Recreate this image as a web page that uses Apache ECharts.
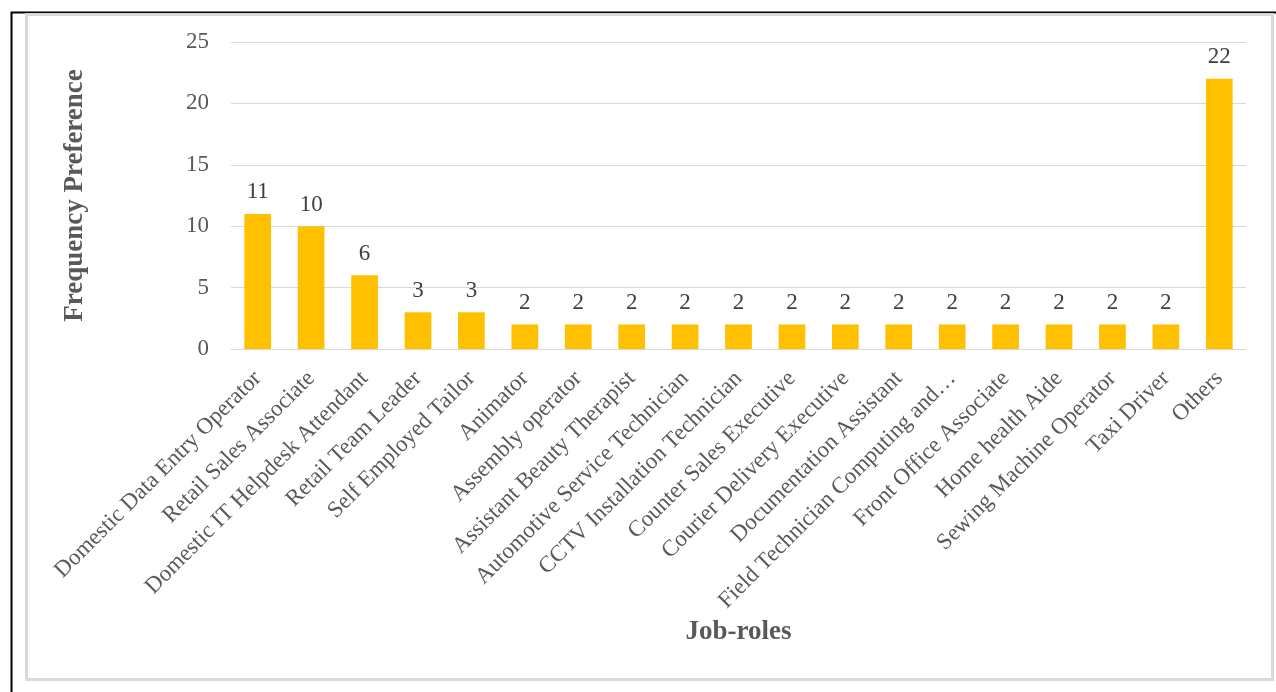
<!DOCTYPE html>
<html>
<head>
<meta charset="utf-8">
<script src="https://cdn.jsdelivr.net/npm/echarts@6/dist/echarts.min.js"></script>
<style>
  html, body { margin: 0; padding: 0; background: #fff; }
  #chart { width: 1276px; height: 692px; }
</style>
</head>
<body>
<div id="chart"></div>
<script>
const jobRoles = [
  'Domestic Data Entry Operator',
  'Retail Sales Associate',
  'Domestic IT Helpdesk Attendant',
  'Retail Team Leader',
  'Self Employed Tailor',
  'Animator',
  'Assembly operator',
  'Assistant Beauty Therapist',
  'Automotive Service Technician',
  'CCTV Installation Technician',
  'Counter Sales Executive',
  'Courier Delivery Executive',
  'Documentation Assistant',
  'Field Technician Computing and…',
  'Front Office Associate',
  'Home health Aide',
  'Sewing Machine Operator',
  'Taxi Driver',
  'Others'
];
const frequency = [11, 10, 6, 3, 3, 2, 2, 2, 2, 2, 2, 2, 2, 2, 2, 2, 2, 2, 22];

const font = '"Liberation Serif", "Times New Roman", serif';
const chart = echarts.init(document.getElementById('chart'));

chart.setOption({
  animation: false,
  backgroundColor: '#fff',
  textStyle: { fontFamily: font },
  graphic: [
    {
      type: 'rect',
      shape: { x: 11.5, y: 12.5, width: 1300, height: 700 },
      style: { fill: null, stroke: '#000', lineWidth: 2 },
      silent: true
    },
    {
      type: 'rect',
      shape: { x: 26.5, y: 14.5, width: 1246, height: 665 },
      style: { fill: null, stroke: '#d9d9d9', lineWidth: 3 },
      silent: true
    }
  ],
  grid: { left: 231, right: 30, top: 42, bottom: 343, containLabel: false },
  xAxis: {
    type: 'category',
    data: jobRoles,
    name: 'Job-roles',
    nameLocation: 'middle',
    nameGap: 270,
    nameTextStyle: { fontFamily: font, fontSize: 27, fontWeight: 'bold', color: '#595959' },
    axisLine: { lineStyle: { color: '#d9d9d9', width: 1 } },
    axisTick: { show: false },
    axisLabel: {
      interval: 0,
      rotate: 45,
      margin: 26,
      fontFamily: font,
      fontSize: 23,
      color: '#595959'
    }
  },
  yAxis: {
    type: 'value',
    min: 0,
    max: 25,
    interval: 5,
    name: 'Frequency Preference',
    nameLocation: 'middle',
    nameGap: 142,
    nameTextStyle: { fontFamily: font, fontSize: 27, fontWeight: 'bold', color: '#595959' },
    axisLine: { show: false },
    axisTick: { show: false },
    axisLabel: { margin: 22, fontFamily: font, fontSize: 23, color: '#595959' },
    splitLine: { lineStyle: { color: '#d9d9d9', width: 1 } }
  },
  series: [
    {
      type: 'bar',
      data: frequency,
      barWidth: '50%',
      itemStyle: { color: '#FFC000' },
      label: {
        show: true,
        position: 'top',
        distance: 10,
        fontFamily: font,
        fontSize: 23,
        color: '#404040'
      }
    }
  ]
});
</script>
</body>
</html>
